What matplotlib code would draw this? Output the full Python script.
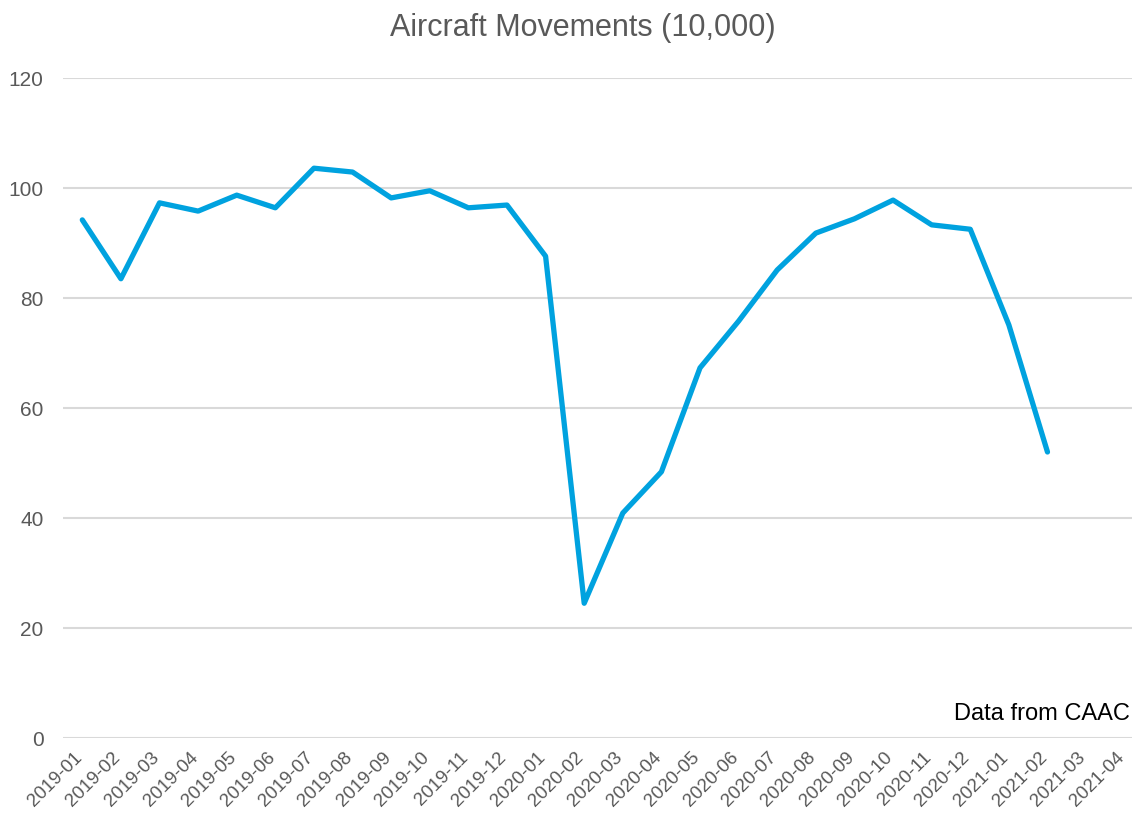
import matplotlib
matplotlib.use('Agg')
from matplotlib import pyplot as plt
from matplotlib import transforms

plt.rcParams['font.family'] = ['Liberation Sans Narrow', 'Liberation Sans', 'DejaVu Sans']

months = ['2019-01', '2019-02', '2019-03', '2019-04', '2019-05', '2019-06',
          '2019-07', '2019-08', '2019-09', '2019-10', '2019-11', '2019-12',
          '2020-01', '2020-02', '2020-03', '2020-04', '2020-05', '2020-06',
          '2020-07', '2020-08', '2020-09', '2020-10', '2020-11', '2020-12',
          '2021-01', '2021-02', '2021-03', '2021-04']
movements = [94.2, 83.5, 97.3, 95.8, 98.7, 96.4, 103.6, 102.9, 98.2, 99.5,
             96.4, 96.9, 87.6, 24.5, 40.9, 48.4, 67.3, 75.8, 85.1, 91.8,
             94.4, 97.8, 93.3, 92.5, 75.1, 52.0]
yticks = [0, 20, 40, 60, 80, 100, 120]

fig = plt.figure(figsize=(11.32, 8.22), dpi=100)
ax = fig.add_axes([63 / 1132, (822 - 738) / 822, 1081 / 1132, 660 / 822])

x = list(range(len(movements)))
ax.plot(x, movements, color='#00A2DF', lw=3.8, solid_capstyle='round',
        solid_joinstyle='round', zorder=3)

ax.set_xlim(-0.5, len(months) - 0.5)
ax.set_ylim(0, 120)
ax.set_yticks(yticks)
ax.set_xticks(range(len(months)))
ax.tick_params(axis='y', labelsize=15, labelcolor='#595959', length=0, pad=14)
ax.tick_params(axis='x', length=0, pad=8)
ax.set_xticklabels(months, rotation=45, ha='right', rotation_mode='anchor',
                   fontsize=13.5, color='#595959')
ax.grid(axis='y', color='#D9D9D9', lw=1.5)
ax.set_axisbelow(True)
for s in ax.spines.values():
    s.set_visible(False)

# pull the rotated labels a little left, like the original
shift = transforms.ScaledTranslation(-9 / 100, 0, fig.dpi_scale_trans)
for lbl in ax.get_xticklabels():
    lbl.set_transform(lbl.get_transform() + shift)

fig.text(0.515, 0.966, 'Aircraft Movements (10,000)', ha='center', va='center',
         fontsize=22, color='#595959')
fig.text(1130 / 1132, (822 - 714) / 822, 'Data from CAAC',
         ha='right', va='center', fontsize=17, color='black')

fig.savefig('out.png', dpi=100)
